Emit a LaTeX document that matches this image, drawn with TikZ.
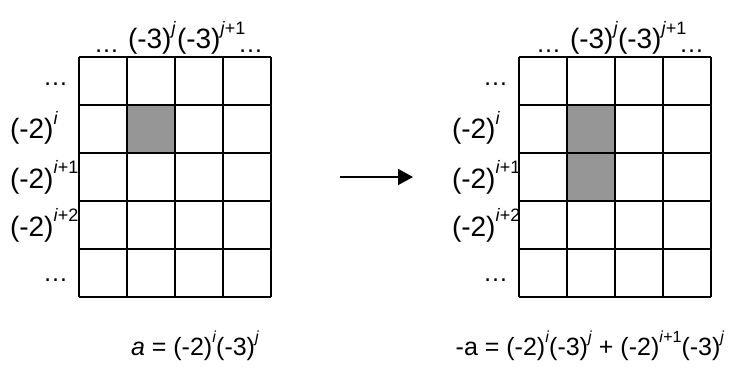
\documentclass[tikz,border=0pt]{standalone}
\usepackage{fontspec}
\setmainfont{Liberation Sans}
\usetikzlibrary{arrows.meta}
\newcommand\supx[1]{\raisebox{14pt}{\fontsize{18}{18}\selectfont #1}}
\newcommand\supf[1]{\raisebox{12.5pt}{\fontsize{16}{16}\selectfont #1}}
\newcommand\vi{\textit{i}}
\newcommand\vj{\textit{j}}
\tikzset{
  lbl/.style={inner sep=0pt, outer sep=0pt, font=\fontsize{28}{32}\selectfont},
  dots/.style={inner sep=0pt, outer sep=0pt, text height=4pt, text depth=0pt, font=\fontsize{25}{28}\selectfont},
  formula/.style={inner sep=0pt, outer sep=0pt, font=\fontsize{25}{28}\selectfont},
  gridline/.style={line width=1.7pt, line cap=square},
  shadecell/.style={fill={rgb,255:red,150;green,150;blue,150}},
  arrowline/.style={line width=1.9pt, -{Triangle[length=15pt,width=16pt]}}
}
\begin{document}
\begin{tikzpicture}[x=1pt,y=-1pt]
\useasboundingbox (0,0) rectangle (732,369);
% ---------- left grid ----------
\fill[shadecell] (127,105) rectangle (175,153);
\foreach \x in {79,127,175,223,271} \draw[gridline] (\x,57) -- (\x,297);
\foreach \y in {57,105,153,201,249,297} \draw[gridline] (79,\y) -- (271,\y);
\node[dots,anchor=base west] (Ltd1) at (94,53) {…};
\node[lbl,anchor=base west] (Ltc1) at (128,49) {(-3)\supx{\vj}};
\node[lbl,anchor=base west] (Ltc2) at (177,49) {(-3)\supx{\vj+1}};
\node[dots,anchor=base west] (Ltd2) at (238,53) {…};
\node[dots,anchor=base east] (Lr1) at (68,86) {…};
\node[lbl,anchor=base west] (Lr2) at (10,139) {(-2)\supx{\vi}};
\node[lbl,anchor=base west] (Lr3) at (10,188) {(-2)\supx{\vi+1}};
\node[lbl,anchor=base west] (Lr4) at (10,236) {(-2)\supx{\vi+2}};
\node[dots,anchor=base east] (Lr5) at (68,281) {…};
\node[formula,anchor=base] (Lf) at (195,355) {\textit{a} = (-2)\supf{\vi}(-3)\supf{\vj}};
% ---------- arrow ----------
\coordinate (As) at (340,177);
\coordinate (Ae) at (413,177);
\draw[arrowline] (As) -- (Ae);
% ---------- right grid ----------
\begin{scope}[xshift=440pt]
\fill[shadecell] (127,105) rectangle (175,201);
\foreach \x in {79,127,175,223,271} \draw[gridline] (\x,57) -- (\x,297);
\foreach \y in {57,105,153,201,249,297} \draw[gridline] (79,\y) -- (271,\y);
\node[dots,anchor=base west] (Rtd1) at (96,53) {…};
\node[lbl,anchor=base west] (Rtc1) at (130,49) {(-3)\supx{\vj}};
\node[lbl,anchor=base west] (Rtc2) at (178,49) {(-3)\supx{\vj+1}};
\node[dots,anchor=base west] (Rtd2) at (239,53) {…};
\node[dots,anchor=base east] (Rr1) at (68,86) {…};
\node[lbl,anchor=base west] (Rr2) at (12,139) {(-2)\supx{\vi}};
\node[lbl,anchor=base west] (Rr3) at (12,188) {(-2)\supx{\vi+1}};
\node[lbl,anchor=base west] (Rr4) at (12,236) {(-2)\supx{\vi+2}};
\node[dots,anchor=base east] (Rr5) at (68,281) {…};
\end{scope}
\node[formula,anchor=base] (Rf) at (590,355) {-a = (-2)\supf{\vi}(-3)\supf{\vj} + (-2)\supf{\vi+1}(-3)\supf{\vj}};
\end{tikzpicture}
\end{document}
